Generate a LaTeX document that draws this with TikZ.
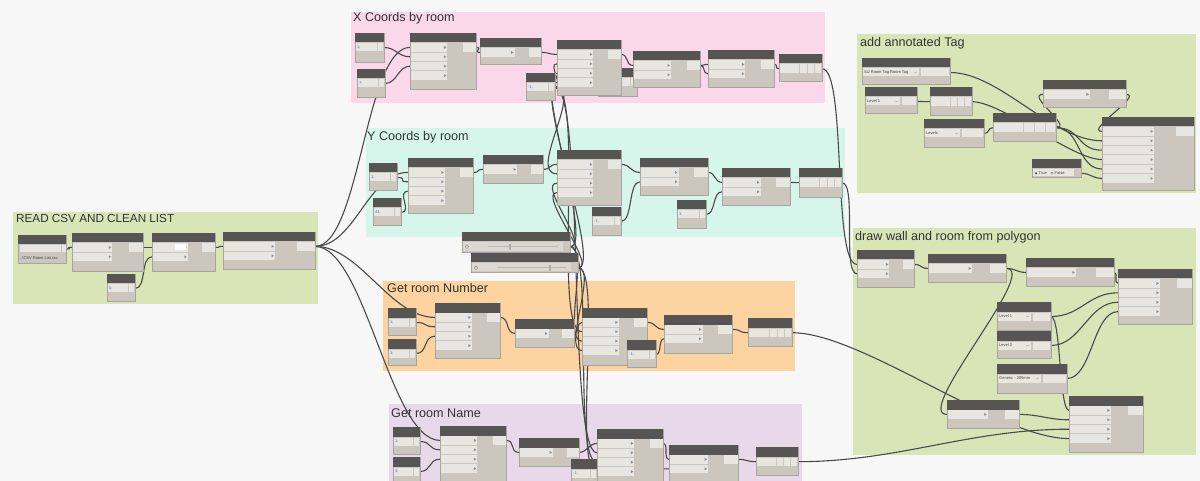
\documentclass[tikz,border=0pt]{standalone}
\usepackage{fontspec}
\setmainfont{Liberation Sans}
\usetikzlibrary{calc}
\definecolor{canvas}{HTML}{F7F7F7}
\definecolor{gGreen}{HTML}{DAE5B7}
\definecolor{gPink}{HTML}{FBD8E9}
\definecolor{gMint}{HTML}{D7F6EB}
\definecolor{gOrange}{HTML}{FDD39F}
\definecolor{gLav}{HTML}{E7D8EA}
\definecolor{nHead}{HTML}{575553}
\definecolor{nBody}{HTML}{CBC7BF}
\definecolor{nRow}{HTML}{E8E6E1}
\definecolor{nEdge}{HTML}{A9A59E}
\definecolor{wireC}{HTML}{4A4A4A}
\definecolor{cbText}{HTML}{3C6FD0}
\definecolor{titleC}{HTML}{333333}
\definecolor{pmarkC}{HTML}{8A8FA0}
\pgfdeclarelayer{grp}
\pgfdeclarelayer{wires}
\pgfsetlayers{grp,wires,main}
\tikzset{
 gtitle/.style={anchor=base west, inner sep=0pt, text=titleC, font=\fontsize{12.6}{13}\selectfont},
 dbody/.style={draw=nEdge, line width=0.5pt, fill=nBody, inner sep=0pt, outer sep=0pt, rectangle},
 wire/.style={draw=wireC, line width=1.1pt},
 tinytext/.style={font=\fontsize{4}{4}\selectfont, inner sep=0pt, anchor=west, text=black!75},
}
\newcommand\wire[3][10]{\begin{pgfonlayer}{wires}\draw[wire] (#2) .. controls +(#1,0) and +(-#1,0) .. (#3);\end{pgfonlayer}}
% function node: name x y w h nin
\newcommand\dn[6]{%
 \node[dbody, minimum width=#4pt, minimum height=#5pt, anchor=north west] (#1) at (#2,#3) {};
 \fill[nHead] (#2,#3) rectangle ++(#4,9.5);
 \foreach \k in {1,...,#6}{%
   \pgfmathsetmacro\ry{#3+10.2+(\k-1)*9.4}
   \fill[nRow] ({#2+0.5},\ry) rectangle ++({0.56*#4},8.4);
   \fill[pmarkC] ({#2+0.56*#4-3},\ry+2.7) -- ++(2.4,1.5) -- ++(-2.4,1.5) -- cycle;
   \coordinate (#1-i\k) at (#2,\ry+4.2);
 }
 \fill[nRow] ({#2+0.8*#4},#3+10.2) rectangle ({#2+#4-0.5},#3+18.6);
 \coordinate (#1-o) at (#2+#4,#3+14.4);
}
% code block: name x y w h text
\newcommand\cb[6]{%
 \node[dbody, minimum width=#4pt, minimum height=#5pt, anchor=north west] (#1) at (#2,#3) {};
 \fill[nHead] (#2,#3) rectangle ++(#4,9.5);
 \fill[nRow] (#2+0.8,#3+10.5) rectangle (#2+#4-7.5,#3+18.5);
 \fill[nRow] (#2+#4-6.5,#3+10.5) rectangle (#2+#4-0.8,#3+18.5);
 \node[tinytext, text=cbText] (#1-t) at (#2+2,#3+14.5) {#6};
 \coordinate (#1-o) at (#2+#4,#3+14.5);
}
% list node: name x y w h
\newcommand\lsn[5]{%
 \node[dbody, minimum width=#4pt, minimum height=#5pt, anchor=north west] (#1) at (#2,#3) {};
 \fill[nHead] (#2,#3) rectangle ++(#4,9.5);
 \fill[nRow] (#2+0.8,#3+10.5) rectangle (#2+#4-0.8,#3+19);
 \foreach \f in {0.48,0.66,0.83}{\draw[nBody, line width=0.8pt] ({#2+\f*#4},#3+10.5) -- ++(0,8.5);}
 \coordinate (#1-i1) at (#2,#3+14.7);
 \coordinate (#1-o) at (#2+#4,#3+14.7);
}
% dropdown: name x y w h text fieldw
\newcommand\dd[7]{%
 \node[dbody, minimum width=#4pt, minimum height=#5pt, anchor=north west] (#1) at (#2,#3) {};
 \fill[nHead] (#2,#3) rectangle ++(#4,9.5);
 \fill[nRow] (#2+1,#3+10.5) rectangle ++(#7,8);
 \node[tinytext] (#1-t) at (#2+2,#3+14.5) {#6};
 \draw[gray, line width=0.3pt] (#2+#7-3.5,#3+14) -- ++(1,1) -- ++(1,-1);
 \fill[nRow] (#2+#7+2.5,#3+10.5) rectangle (#2+#4-1,#3+18.5);
 \coordinate (#1-o) at (#2+#4,#3+14.5);
}
% slider: name x y w h thumbx
\newcommand\sld[6]{%
 \node[dbody, minimum width=#4pt, minimum height=#5pt, anchor=north west] (#1) at (#2,#3) {};
 \fill[nHead] (#2,#3) rectangle ++(#4,9.5);
 \fill[nRow!55!nBody] (#2+1,#3+10.5) rectangle (#2+#4-7,#3+#5-1);
 \draw[gray!80, line width=0.5pt] (#2+5,#3+14.8) circle (1.8);
 \draw[gray!55, line width=0.7pt] (#2+26,#3+14.8) -- (#2+#4-12,#3+14.8);
 \fill[gray!65] (#6-1,#3+11.8) rectangle ++(2,6);
 \coordinate (#1-o) at (#2+#4,#3+14.8);
}
% boolean: name x y w h
\newcommand\bn[5]{%
 \node[dbody, minimum width=#4pt, minimum height=#5pt, anchor=north west] (#1) at (#2,#3) {};
 \fill[nHead] (#2,#3) rectangle ++(#4,9.5);
 \fill[nRow] (#2+1,#3+10.3) rectangle (#2+#4-7,#3+#5-0.8);
 \fill[black!70] (#2+4,#3+14.3) circle (1.2);
 \node[tinytext] (#1-a) at (#2+6.5,#3+14.3) {True};
 \draw[black!60, line width=0.3pt] (#2+20,#3+14.3) circle (1.2);
 \node[tinytext] (#1-b) at (#2+22.5,#3+14.3) {False};
 \coordinate (#1-o) at (#2+#4,#3+14.3);
}
\begin{document}
\begin{tikzpicture}[x=1pt,y=-1pt]
\useasboundingbox (0,0) rectangle (1200,481);
\begin{pgfonlayer}{grp}
\fill[canvas] (0,0) rectangle (1200,481);
\fill[gGreen] (13,212) rectangle (318,304);
\fill[gPink] (351,12) rectangle (825,103);
\fill[gMint] (366,128) rectangle (845,237);
\fill[gOrange] (383,281) rectangle (795,371);
\fill[gLav] (389,404) rectangle (802,481);
\fill[gGreen] (857,34) rectangle (1196,193);
\fill[gGreen] (853,228) rectangle (1196,455);
\node[gtitle, font=\fontsize{11.7}{12}\selectfont] (tRead) at (16,223) {READ CSV AND CLEAN LIST};
\node[gtitle] (tX) at (353,22) {X Coords by room};
\node[gtitle] (tY) at (367,141) {Y Coords by room};
\node[gtitle] (tGN) at (387,292) {Get room Number};
\node[gtitle] (tGM) at (391,417) {Get room Name};
\node[gtitle] (tT) at (860,47) {add annotated Tag};
\node[gtitle] (tD) at (855,241) {draw wall and room from polygon};
\end{pgfonlayer}

% READ CSV AND CLEAN LIST
\node[dbody, minimum width=48pt, minimum height=28pt, anchor=north west] (N1) at (18,235) {};
\fill[nHead] (18,235) rectangle ++(48,9);
\fill[nRow] (19.5,245.5) rectangle (61,252.5);
\fill[nRow] (62,245.5) rectangle (65.5,252.5);
\node[tinytext] (N1-t) at (20,258) {..\textbackslash CSV Room List.csv};
\coordinate (N1-o) at (66,249);
\dn{N2}{72}{233}{71}{38}{2}
\dn{N3}{152}{233}{63}{38}{2}
\fill[white!90!nRow] (175,244.5) rectangle (186,250);
\dn{N4}{223}{232}{92}{37}{2}
\cb{N5}{107}{274}{28}{27}{0;}

% X Coords
\cb{X1}{355}{33}{29}{29}{1;}
\cb{X2}{357}{69}{28}{28}{7;}
\dn{X3}{410}{33}{66}{56}{4}
\dn{X4}{480}{38}{61}{26}{1}
\cb{X6}{526}{73}{29}{27}{-1;}
\cb{X6b}{598}{68}{39}{28}{}
\dn{X5}{557}{40}{64}{55}{4}
\dn{X7}{633}{51}{67}{36}{2}
\dn{X8}{708}{50}{66}{37}{2}
\lsn{X9}{779}{54}{43}{27}

% Y Coords
\cb{Y1}{369}{163}{28}{27}{1;}
\cb{Y2}{373}{198}{28}{27}{44;}
\dn{Y3}{408}{158}{65}{55}{4}
\dn{Y4}{483}{155}{60}{28}{1}
\dn{Y5}{557}{150}{64}{55}{4}
\cb{Y6}{592}{207}{29}{28}{-1;}
\dn{Y7}{640}{158}{68}{37}{2}
\cb{Y8}{677}{200}{29}{28}{1;}
\dn{Y9}{722}{168}{68}{37}{2}
\lsn{Y10}{799}{168}{43}{29}

% sliders
\sld{S1}{462}{232}{108}{20}{510}
\sld{S2}{471}{253}{107}{19}{550}

% Get room Number
\cb{GN1}{388}{308}{28}{27}{1;}
\cb{GN2}{388}{339}{28}{26}{3;}
\dn{GN3}{435}{303}{65}{55}{4}
\dn{GN4}{515}{319}{59}{28}{1}
\dn{GN5}{582}{308}{65}{57}{4}
\cb{GN6}{627}{340}{29}{27}{-1;}
\dn{GN7}{664}{315}{68}{38}{2}
\lsn{GN8}{748}{318}{44}{28}

% Get room Name
\cb{GM1}{393}{427}{27}{27}{1;}
\cb{GM2}{393}{457}{27}{26}{3;}
\dn{GM3}{440}{426}{66}{57}{4}
\dn{GM4}{519}{438}{60}{28}{1}
\cb{GM6}{571}{459}{26}{24}{-1;}
\dn{GM5}{597}{429}{66}{55}{4}
\dn{GM7}{669}{445}{69}{38}{2}
\lsn{GM8}{756}{447}{42}{28}

% add annotated Tag
\dd{T1}{862}{58}{88}{26}{SU Room Tag:Room Tag}{56}
\dd{T2}{865}{87}{52}{26}{Level 1}{34}
\lsn{T3}{930}{87}{42}{28}
\dd{T4}{924}{119}{60}{28}{Levels}{35}
\lsn{T5}{993}{113}{63}{28}
\dn{T6}{1043}{80}{83}{27}{1}
\bn{T7}{1032}{159}{49}{18}
\dn{T8}{1102}{117}{92}{73}{6}

% draw wall and room from polygon
\dn{D1}{857}{250}{57}{37}{2}
\dn{D2}{928}{254}{78}{28}{1}
\dn{D3}{1026}{258}{88}{28}{1}
\dd{D4}{997}{302}{54}{28}{Level 1}{33}
\dd{D5}{997}{331}{54}{27}{Level 2}{33}
\dd{D6}{997}{364}{70}{29}{Generic - 200mm}{43}
\dn{D7}{1118}{269}{74}{55}{4}
\dn{D10}{947}{400}{72}{28}{1}
\dn{D11}{1069}{396}{74}{56}{4}

% wires: READ CSV
\wire[8]{N1-o}{N2-i1}
\wire[8]{N2-o}{N3-i1}
\wire[12]{N5-o}{N3-i2}
\wire[8]{N3-o}{N4-i1}
\wire[45]{N4-o}{X3-i1}
\wire[40]{N4-o}{Y3-i1}
\wire[45]{N4-o}{GN3-i1}
\wire[50]{N4-o}{GM3-i1}
% X
\wire[12]{X1-o}{X3-i2}
\wire[12]{X2-o}{X3-i3}
\wire[8]{X3-o}{X4-i1}
\wire[8]{X4-o}{X5-i1}
\wire[10]{X6-o}{X5-i2}
\wire[8]{X5-o}{X7-i1}
\wire[6]{X7-o}{X8-i1}
\wire[6]{X7-o}{X8-i2}
\wire[5]{X8-o}{X9-i1}
\wire[25]{X9-o}{D1-i1}
% Y
\wire[12]{Y1-o}{Y3-i2}
\wire[12]{Y2-o}{Y3-i3}
\wire[8]{Y3-o}{Y4-i1}
\wire[8]{Y4-o}{Y5-i1}
\wire[10]{Y5-o}{Y7-i1}
\wire[12]{Y6-o}{Y7-i2}
\wire[8]{Y7-o}{Y9-i1}
\wire[10]{Y8-o}{Y9-i2}
\wire[5]{Y9-o}{Y10-i1}
\wire[15]{Y10-o}{D1-i2}
% crossing wires
\wire[30]{X6-o}{Y5-i2}
\wire[30]{X6-o}{GN5-i2}
\wire[30]{X6-o}{GM5-i2}
\wire[25]{S1-o}{X5-i3}
\wire[25]{S2-o}{X5-i4}
\wire[20]{S1-o}{Y5-i3}
\wire[20]{S2-o}{Y5-i4}
\wire[20]{S1-o}{GN5-i3}
\wire[20]{S2-o}{GN5-i4}
\wire[25]{S1-o}{GM5-i3}
\wire[25]{S2-o}{GM5-i4}
% Get room Number
\wire[12]{GN1-o}{GN3-i2}
\wire[12]{GN2-o}{GN3-i3}
\wire[10]{GN3-o}{GN4-i1}
\wire[6]{GN4-o}{GN5-i1}
\wire[10]{GN5-o}{GN7-i1}
\wire[6]{GN6-o}{GN7-i2}
\wire[10]{GN7-o}{GN8-i1}
\wire[70]{GN8-o}{D11-i4}
% Get room Name
\wire[12]{GM1-o}{GM3-i2}
\wire[12]{GM2-o}{GM3-i3}
\wire[10]{GM3-o}{GM4-i1}
\wire[8]{GM4-o}{GM5-i1}
\wire[6]{GM5-o}{GM7-i1}
\wire[20]{GM6-o}{GM7-i2}
\wire[10]{GM7-o}{GM8-i1}
\wire[100]{GM8-o}{D11-i3}
% add annotated Tag
\wire[8]{T2-o}{T3-i1}
\wire[6]{T4-o}{T5-i1}
\wire[50]{T1-o}{T8-i2}
\wire[30]{T3-o}{T8-i4}
\wire[25]{T5-o}{T8-i3}
\wire[25]{T5-o}{T8-i5}
\wire[18]{T5-o}{T6-i1}
\wire[18]{T6-o}{T8-i1}
\wire[10]{T7-o}{T8-i6}
% draw wall
\wire[8]{D1-o}{D2-i1}
\wire[10]{D2-o}{D3-i1}
\wire[5]{D3-o}{D7-i1}
\wire[35]{D2-o}{D10-i1}
\wire[30]{D4-o}{D7-i2}
\wire[30]{D5-o}{D7-i3}
\wire[25]{D6-o}{D7-i4}
\wire[10]{D4-o}{D11-i1}
\wire[20]{D10-o}{D11-i2}
\end{tikzpicture}
\end{document}
